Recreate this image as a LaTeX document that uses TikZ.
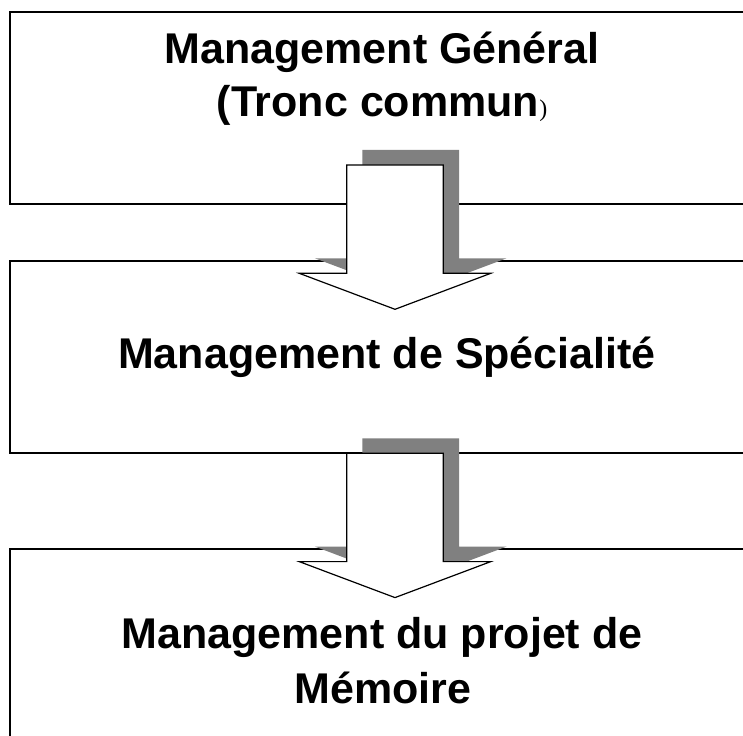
\documentclass[tikz,border=0pt]{standalone}
\usepackage{fontspec}
\setmainfont{Liberation Sans}
\newfontfamily\parenfont{Liberation Serif}
\begin{document}
\begin{tikzpicture}[x=1pt,y=-1pt,
  boxline/.style={draw=black,line width=1.3pt},
  shadowfill/.style={fill=black!50},
  arrowbody/.style={draw=black,fill=white,line width=1.2pt,line join=miter},
  caption/.style={font=\fontsize{43}{53}\selectfont\bfseries,inner sep=0pt,anchor=base},
  pics/blockarrow/.style={code={
    % offset grey shadow, then the white outlined arrow on top
    \fill[shadowfill,shift={(15.7,-15)}]
      (-48.3,0) -- (48.3,0) -- (48.3,108.3) -- (95.8,108.3) -- (0,144.3)
      -- (-95.8,108.3) -- (-48.3,108.3) -- cycle;
    \draw[arrowbody]
      (-48.3,0) -- (48.3,0) -- (48.3,108.3) -- (95.8,108.3) -- (0,144.3)
      -- (-95.8,108.3) -- (-48.3,108.3) -- cycle;
  }}]
\useasboundingbox (0,0) rectangle (743,735);
\clip (0,0) rectangle (743,735);

% three stages, open past the right and bottom edges
\draw[boxline] (10,12) rectangle (770,204);
\draw[boxline] (10,261) rectangle (770,453);
\draw[boxline] (10,549) rectangle (770,770);

% block arrows between the stages
\pic (arrowA) at (395,165) {blockarrow};
\pic (arrowB) at (395,453.3) {blockarrow};

% stage titles
\node[caption] (generalA) at (382,63.3) {Management Général};
\node[caption] (generalB) at (382,116.7) {(Tronc commun{\parenfont\mdseries\fontsize{24}{24}\selectfont )}};
\node[caption] (special) at (387,368) {Management de Spécialité};
\node[caption] (memoireA) at (382,648) {Management du projet de};
\node[caption] (memoireB) at (383,703) {Mémoire};
\end{tikzpicture}
\end{document}
